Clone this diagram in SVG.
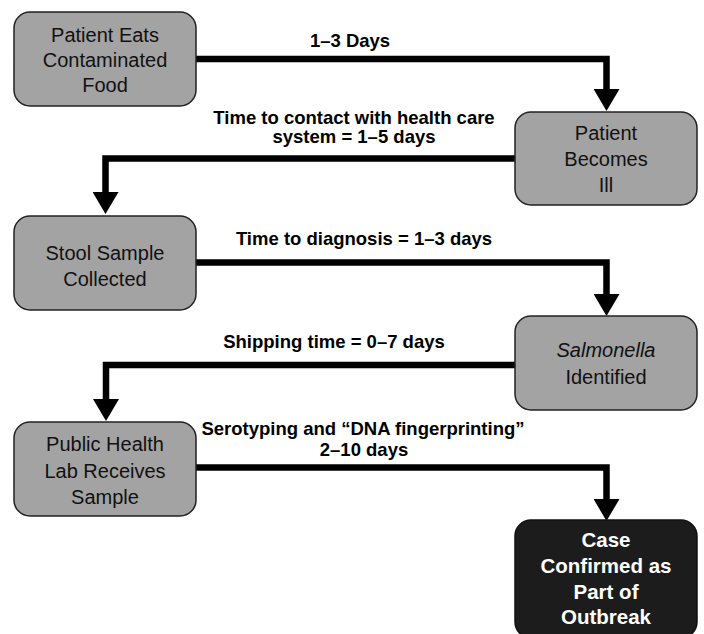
<svg xmlns="http://www.w3.org/2000/svg" width="704" height="634" viewBox="0 0 704 634">
<defs>
<style>
.box{fill:#a3a3a3;stroke:#222;stroke-width:1.5}
.dark{fill:#1c1c1c;stroke:#111;stroke-width:1.5}
.bt{font-family:"Liberation Sans",Arial,sans-serif;font-size:20px;fill:#111;text-anchor:middle}
.wt{font-family:"Liberation Sans",Arial,sans-serif;font-size:20.5px;font-weight:bold;fill:#fff;text-anchor:middle}
.lb{font-family:"Liberation Sans",Arial,sans-serif;font-size:18.5px;font-weight:bold;fill:#000;text-anchor:middle}
.cn{fill:none;stroke:#000;stroke-width:6.5;stroke-linejoin:miter;marker-end:url(#ah)}
</style>
<marker id="ah" markerUnits="userSpaceOnUse" markerWidth="22" markerHeight="26" refX="0" refY="13" orient="auto">
<path d="M0,0 L22,13 L0,26 Z" fill="#000"/>
</marker>
</defs>
<rect width="704" height="634" fill="#fff"/>

<g id="connectors">
<path class="cn" d="M196,59 H606.5 V89"/>
<path class="cn" d="M515,158.5 H105.5 V192"/>
<path class="cn" d="M196,262.5 H606.5 V294"/>
<path class="cn" d="M515,365 H106 V399"/>
<path class="cn" d="M196,467.5 H606.5 V499"/>
<text class="lb" x="350" y="47">1–3 Days</text>
<text class="lb" x="354" y="124">Time to contact with health care</text>
<text class="lb" x="354" y="143">system = 1–5 days</text>
<text class="lb" x="364" y="245">Time to diagnosis = 1–3 days</text>
<text class="lb" x="334" y="348">Shipping time = 0–7 days</text>
<text class="lb" x="363" y="435">Serotyping and “DNA fingerprinting”</text>
<text class="lb" x="364" y="456">2–10 days</text>
</g>

<g id="n1">
<rect class="box" x="14" y="12" width="182" height="94" rx="16"/>
<text class="bt" x="105" y="42">Patient Eats</text>
<text class="bt" x="105" y="67">Contaminated</text>
<text class="bt" x="105" y="92">Food</text>
</g>
<g id="n2">
<rect class="box" x="515" y="112" width="182" height="93" rx="16"/>
<text class="bt" x="606" y="140">Patient</text>
<text class="bt" x="606" y="166">Becomes</text>
<text class="bt" x="606" y="192">Ill</text>
</g>
<g id="n3">
<rect class="box" x="14" y="216" width="182" height="94" rx="16"/>
<text class="bt" x="105" y="260">Stool Sample</text>
<text class="bt" x="105" y="286">Collected</text>
</g>
<g id="n4">
<rect class="box" x="515" y="316" width="182" height="94" rx="16"/>
<text class="bt" x="606" y="357" font-style="italic">Salmonella</text>
<text class="bt" x="606" y="384">Identified</text>
</g>
<g id="n5">
<rect class="box" x="14" y="422" width="182" height="94" rx="16"/>
<text class="bt" x="105" y="451">Public Health</text>
<text class="bt" x="105" y="478">Lab Receives</text>
<text class="bt" x="105" y="504">Sample</text>
</g>
<g id="n6">
<rect class="dark" x="515" y="520" width="182" height="118" rx="16"/>
<text class="wt" x="606" y="547">Case</text>
<text class="wt" x="606" y="573">Confirmed as</text>
<text class="wt" x="606" y="599">Part of</text>
<text class="wt" x="606" y="624">Outbreak</text>
</g>
</svg>
